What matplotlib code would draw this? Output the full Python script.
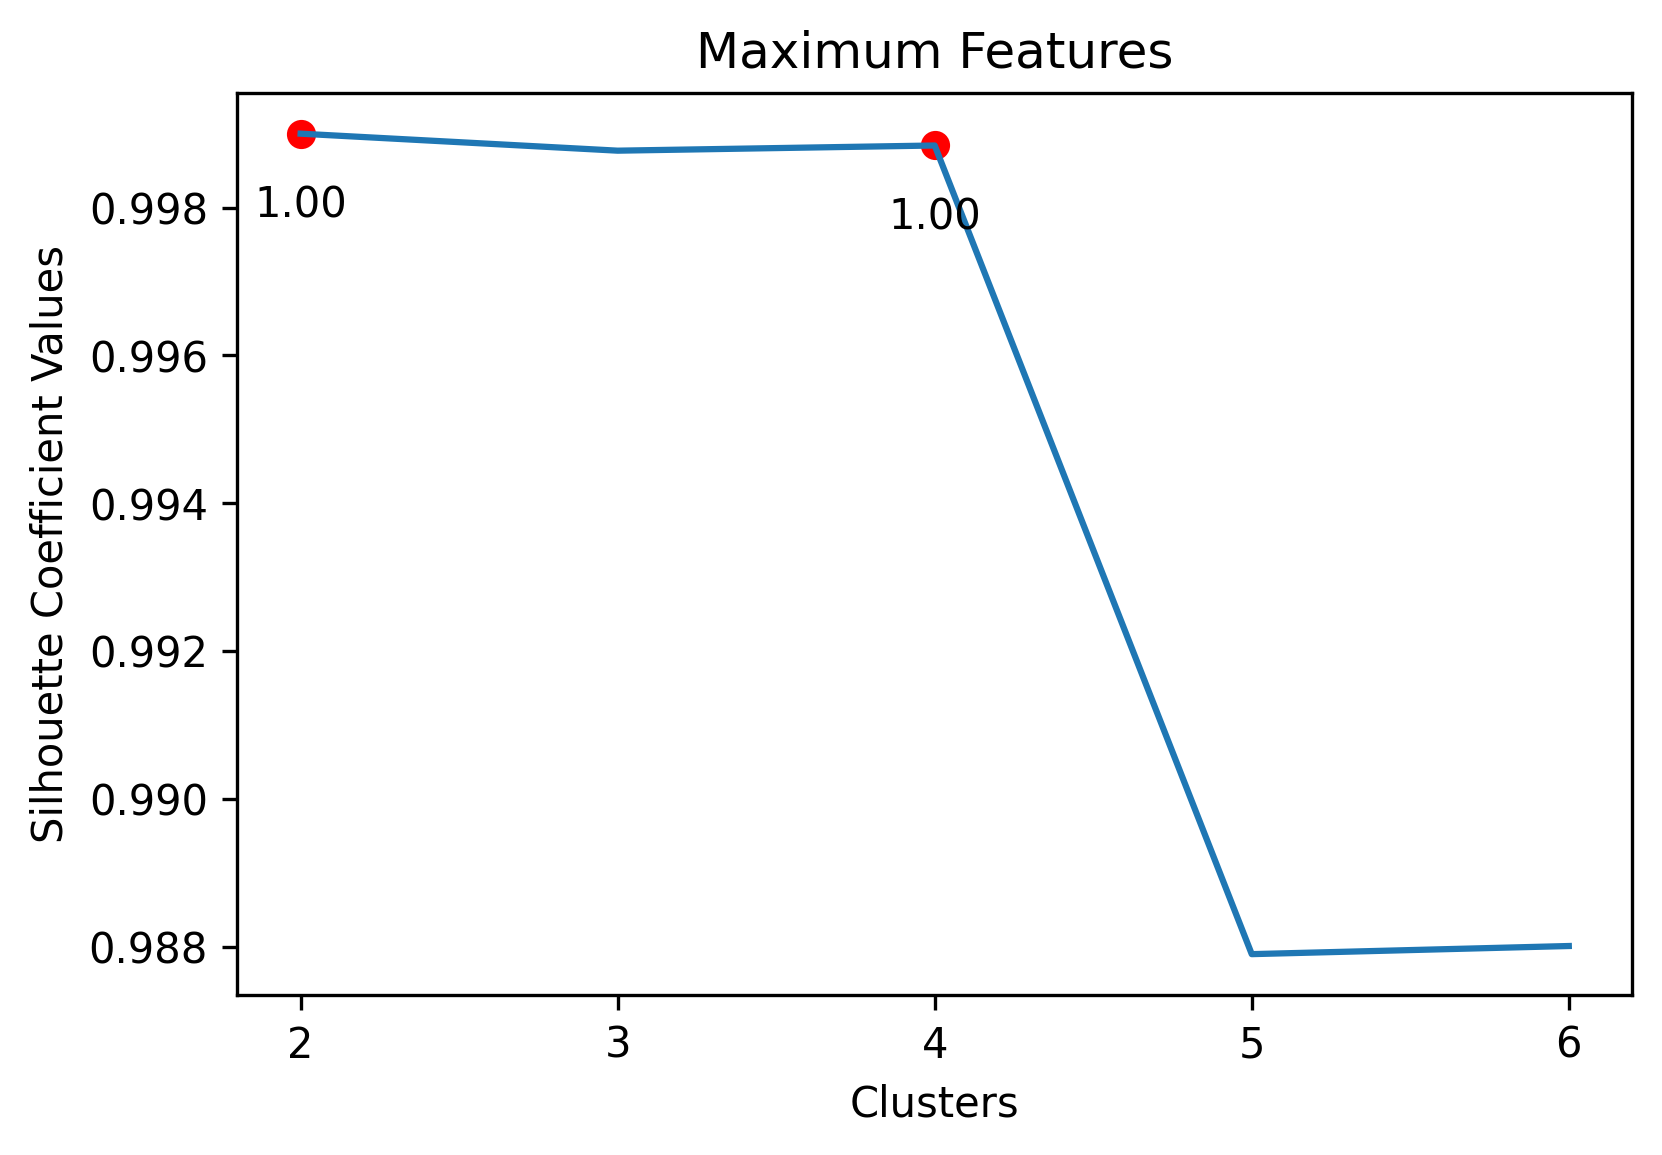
import matplotlib
matplotlib.use('Agg')
import matplotlib.pyplot as plt

clusters = [2, 3, 4, 5, 6]
scores = [0.99900, 0.99877, 0.99884, 0.98790, 0.98801]
best_idx = [0, 2]

fig, ax = plt.subplots(figsize=(6, 3.907))
ax.plot(clusters, scores)
for i in best_idx:
    ax.scatter(clusters[i], scores[i], color='red')
    ax.annotate(f'{scores[i]:.2f}', (clusters[i], scores[i]),
                textcoords='offset points', xytext=(0, -20), ha='center')

ax.set_xticks(clusters)
ax.set_xlabel('Clusters')
ax.set_ylabel('Silhouette Coefficient Values')
ax.set_title('Maximum Features')

plt.savefig('out.png', dpi=300, bbox_inches='tight')
plt.close()
